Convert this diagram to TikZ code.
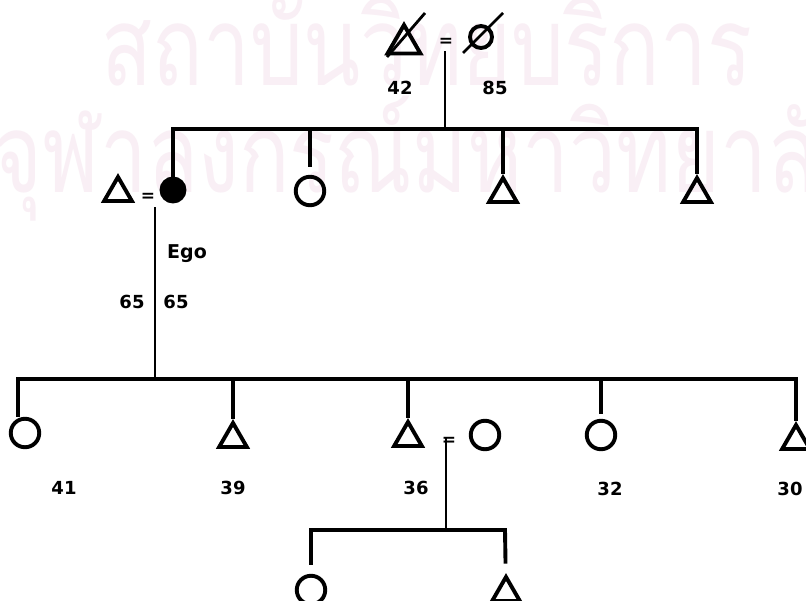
\documentclass[tikz,border=0pt]{standalone}
\usepackage{fontspec}
\setsansfont{DejaVu Sans}
\newfontfamily\thaifont[Script=Thai]{Loma}
\usetikzlibrary{shapes.geometric}
\definecolor{markpink}{RGB}{249,239,245}

\begin{document}
\begin{tikzpicture}[x=1pt, y=-1pt, font=\sffamily\bfseries, line width=3.9pt]
	\tikzstyle{maleStyle} = [regular polygon, regular polygon sides=3, minimum size=32pt, inner sep=0pt, draw]
	\tikzstyle{femaleStyle} = [shape=circle, minimum size=28.5pt, inner sep=0pt, draw]
	\tikzstyle{egoStyle} = [shape=circle, minimum size=23pt, inner sep=0pt, draw, fill]
	\tikzstyle{ageStyle} = [inner sep=0pt, font=\sffamily\bfseries\fontsize{18}{18}\selectfont]
	\tikzstyle{marriageStyle} = [inner sep=0pt, font=\sffamily\bfseries\fontsize{17}{17}\selectfont]
	\tikzstyle{descentStyle} = [line width=2.8pt]
	\tikzstyle{markStyle} = [text=markpink, anchor=base west, inner sep=0pt, font=\thaifont\fontsize{110}{110}\selectfont]
	\path[fill=white] (0,0) rectangle (806,600);
	\useasboundingbox (0,0) rectangle (806,600);
	% watermark
	\node[markStyle] (w0) at (100,85) {\scalebox{0.76}[1]{สถาบันวิทยบริการ}};
	\node[markStyle] (w1) at (-8,192) {\scalebox{0.76}[1]{จุฬาลงกรณ์มหาวิทยาลัย}};
	% grandparents
	\node[maleStyle, minimum size=38pt] (v0) at (404,44) {};
	\node[femaleStyle, minimum size=22pt] (v1) at (481,37) {};
	\draw[descentStyle] ([shift={(-17,13)}]v0.center) -- ([shift={(21,-31)}]v0.center);
	\draw[descentStyle] ([shift={(-18,16)}]v1.center) -- ([shift={(22,-24)}]v1.center);
	\node[marriageStyle] (m0) at (446,42) {=};
	\coordinate (d0) at (445,51);
	\coordinate (b0) at (445,129);
	\draw[descentStyle] (d0) -- (b0);
	\node[ageStyle] (a0) at (400,88) {42};
	\node[ageStyle] (a1) at (495,88) {85};
	% parents
	\node[egoStyle] (v2) at (173,190) {};
	\node[maleStyle] (v3) at (118,193) {};
	\node[marriageStyle] (m1) at (148,197) {=};
	\node[femaleStyle] (v4) at (310,191) {};
	\node[maleStyle] (v5) at (503,194) {};
	\node[maleStyle] (v6) at (697,194) {};
	\coordinate (b1) at (173,129);
	\coordinate (b2) at (697,129);
	\draw (v2) |- (b2) -- (v6);
	\draw[shorten >=8pt] (b1 -| v4) -- (v4);
	\draw (b1 -| v5) -- (v5);
	\coordinate (d1) at (155,207);
	\node[inner sep=0pt, font=\sffamily\bfseries\fontsize{19}{19}\selectfont] (e0) at (187,254) {Ego};
	\node[ageStyle] (a2) at (132,302) {65};
	\node[ageStyle] (a3) at (176,302) {65};
	% children
	\node[femaleStyle] (v7) at (25,433) {};
	\node[maleStyle] (v8) at (233,439) {};
	\node[maleStyle] (v9) at (408,438) {};
	\node[marriageStyle] (m2) at (449,441) {=};
	\node[femaleStyle] (v12) at (485,435) {};
	\node[femaleStyle] (v10) at (601,435) {};
	\node[maleStyle] (v11) at (796,441) {};
	\coordinate (b3) at (18,379);
	\coordinate (b4) at (796,379);
	\draw[descentStyle] (d1) -- (d1 |- b3);
	\draw (b3 |- v7.north) -- (b3) -- (b4) -- (v11);
	\draw (b3 -| v8) -- (v8);
	\draw (b3 -| v9) -- (v9);
	\draw[shorten >=5pt] (b3 -| v10) -- (v10);
	\node[ageStyle] (a4) at (64,488) {41};
	\node[ageStyle] (a5) at (233,488) {39};
	\node[ageStyle] (a6) at (416,488) {36};
	\node[ageStyle] (a7) at (610,489) {32};
	\node[ageStyle] (a8) at (790,489) {30};
	% grandchildren
	\node[femaleStyle] (v13) at (311,590) {};
	\node[maleStyle] (v14) at (506,593) {};
	\coordinate (d2) at (446,438);
	\coordinate (b5) at (505,530);
	\draw[descentStyle] (d2) -- (d2 |- b5);
	\draw[shorten <=9pt, shorten >=10pt] (v13) |- (b5) -- (v14);
\end{tikzpicture}
\end{document}
